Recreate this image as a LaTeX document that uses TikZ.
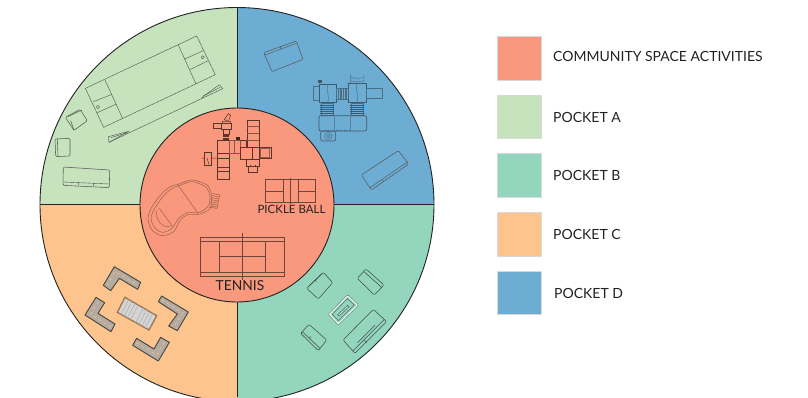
\documentclass[tikz,border=0pt]{standalone}
\usepackage{fontspec}
\usetikzlibrary{calc}
\setmainfont{Lato}
\definecolor{salmon}{HTML}{F9987C}
\definecolor{pa}{HTML}{C6E3BE}
\definecolor{pb}{HTML}{93D5BD}
\definecolor{pc}{HTML}{FDC58D}
\definecolor{pd}{HTML}{6DACD3}
\definecolor{ink}{HTML}{222222}
\definecolor{seatgrey}{HTML}{B5ABA0}
\tikzset{
  zm/.style 2 args={shift={(#1,#2)},x=.33333pt,y=-.33333pt},
  fine/.style={draw=#1,line width=.4pt,line join=round},
  fine/.default={ink!75!pa},
  sofa/.style={draw=ink!75,line width=.55pt,rounded corners=1.2pt},
  seat/.style={draw=ink!85,line width=.9pt,fill=seatgrey,line join=round},
  swatch/.style={draw=white!85!black,line width=.4pt},
  legend/.style={anchor=west,inner sep=0pt,font=\fontsize{14}{16}\selectfont,text=ink},
  court/.style={draw=#1,line width=.5pt},
  court/.default={black!55!salmon},
  sitelabel/.style={inner sep=0pt,text=ink,font=\fontsize{#1}{15}\selectfont},
  sitelabel/.default=11.5,
}
\begin{document}
\begin{tikzpicture}[x=1pt,y=-1pt]
\useasboundingbox (0,0) rectangle (808,397);
\fill[white] (0,0) rectangle (808,397);
\begin{scope}
\clip (0,0) rectangle (808,397);
\begin{scope}
\clip (237,204.5) circle (197);
\fill[pa] (30,0) rectangle (237,204.5);
\fill[pd] (237,0) rectangle (440,204.5);
\fill[pc] (30,204.5) rectangle (237,410);
\fill[pb] (237,204.5) rectangle (440,410);
\end{scope}
\draw[ink,line width=.9pt] (237,204.5) circle (197);
\draw[ink,line width=.9pt] (237,8) -- (237,108) (237,302) -- (237,397) (40,204.5) -- (140,204.5) (334,204.5) -- (434,204.5);
\fill[salmon] (237,205) circle (97);
\draw[ink,line width=.9pt] (237,205) circle (97);

% ---------- Pocket A
\begin{scope}[zm={40}{0}]
\draw[fine] (136,265) -- (470,108) -- (526,224) -- (191,382) -- cycle;
\draw[fine] (195,240) -- (248,356) (415,135) -- (468,252);
\draw[fine] (160,305) -- (216,283) (172,338) -- (229,312);
\draw[fine] (432,178) -- (490,152) (449,209) -- (505,182);
\draw[fine] (174,321) circle (5) (488,172) circle (5);
\draw[fine] (205,410) -- (266,394) -- (207,427) -- cycle;
\draw[fine] (485,293) -- (538,254) -- (548,266) -- (207,427);
\draw[fine] (212,413) -- (262,398) (490,288) -- (540,262);
\draw[sofa] (76,352) -- (120,328) -- (142,362) -- (102,391) -- cycle;
\draw[sofa] (84,350) -- (125,330) (92,362) -- (102,391);
\draw[sofa] (45,417) -- (90,415) -- (90,468) -- (47,470) -- cycle;
\draw[sofa] (52,417) -- (54,468);
\draw[sofa] (70,501) -- (209,510) -- (208,563) -- (69,556) -- cycle;
\draw[fine] (71,546) -- (208,552) (115,548) -- (115,555) (160,550) -- (160,558);
\end{scope}

% ---------- Pocket D
\begin{scope}[zm={237}{0}]
\draw[sofa] (80,158) -- (178,123) -- (198,178) -- (105,215) -- cycle;
\draw[fine] (130,140) -- (132,148) (84,165) -- (178,130);
\draw[sofa] (373,525) -- (484,452) -- (515,492) -- (403,570) -- cycle;
\draw[fine] (436,540) -- (440,546) (399,563) -- (511,486);
\end{scope}
\begin{scope}[zm={305}{70}]
\tikzset{pl/.style={draw=ink!45!pd,line width=.45pt}}
\draw[pl] (25,48) rectangle (42,92);
\draw[pl,draw=ink!60!pd] (42,42) rectangle (95,98);
\draw[pl] (68,42) .. controls (62,60) and (75,75) .. (68,98);
\draw[pl,draw=ink!60!pd] (130,40) rectangle (185,98);
\draw[pl] (155,40) .. controls (150,60) and (163,75) .. (155,98);
\draw[pl] (185,55) rectangle (232,85);
\draw[pl] (137,13) -- (137,40) (177,13) -- (177,40) (137,22) .. controls (150,26) and (165,26) .. (177,22) (137,32) .. controls (150,36) and (165,36) .. (177,32);
\draw[pl] (95,55) rectangle (130,88);
\foreach \xx in {100,105,...,125} \draw[pl] (\xx,55) -- (\xx,88);
\draw[pl] (50,100) rectangle (84,135) (140,100) rectangle (174,135);
\foreach \yy in {105,111,...,130} \draw[pl,draw=ink!60!pd,line width=.6pt] (46,\yy) -- (88,\yy) (136,\yy) -- (178,\yy);
\draw[ink!60!pd,line width=.7pt,rounded corners=2pt] (42,137) rectangle (185,183);
\draw[pl,draw=ink!30!pd] (88,137) -- (88,183) (135,137) -- (135,183);
\draw[ink!60!pd,line width=.55pt,rounded corners=2pt] (47,183) rectangle (92,213);
\draw[pl] (70,198) circle (11) (70,198) circle (5);
\draw[ink!60!pd,dotted,line width=.7pt] (92,181) -- (135,181);
\fill[ink!60!pd] (40,30) rectangle (50,38);
\end{scope}

% ---------- Pocket C
\begin{scope}[zm={70}{250}]
\foreach \p in {
 {(133,50) -- (212,97) -- (203,118) -- (148,85) -- (122,122) -- (100,106) -- cycle},
 {(78,142) -- (104,158) -- (84,190) -- (135,222) -- (123,245) -- (45,195) -- cycle},
 {(275,138) -- (355,186) -- (322,242) -- (296,228) -- (322,192) -- (265,155) -- cycle},
 {(200,265) -- (252,297) -- (272,262) -- (298,277) -- (265,333) -- (188,286) -- cycle}}
  {\draw[seat] \p;}
\draw[pc,dashed,line width=.5pt] (195,100) -- (135,65) -- (112,104);
\draw[pc,dashed,line width=.5pt] (85,155) -- (62,193) -- (125,232);
\draw[pc,dashed,line width=.5pt] (275,150) -- (338,188) -- (312,230);
\draw[pc,dashed,line width=.5pt] (198,278) -- (260,315) -- (285,272);
\draw[draw=black!40!pc,fill=black!17,line width=1.3pt] (165,142) -- (260,197) -- (237,240) -- (142,187) -- cycle;
\foreach \tt in {0.12,0.22,0.32,0.42,0.58,0.68,0.78,0.88}
  \draw[black!30,line width=.6pt] ($(165,142)!\tt!(260,197)$) -- ($(142,187)!\tt!(237,240)$);
\end{scope}

% ---------- Pocket B
\begin{scope}[zm={285}{250}]
\tikzset{sb/.style={draw=ink!75!pb,line width=.55pt,rounded corners=1.2pt}}
\draw[sb] (115,67) -- (143,98) -- (100,147) -- (65,115) -- cycle;
\draw[sb] (72,108) -- (110,72) (90,90) -- (94,95);
\draw[sb] (243,57) -- (297,105) -- (268,135) -- (217,85) -- cycle;
\draw[sb] (238,66) -- (290,112);
\draw[sb] (72,223) -- (125,270) -- (100,302) -- (47,250) -- cycle;
\draw[sb] (52,245) -- (105,295) (72,265) -- (78,260);
\draw[sb] (265,178) -- (305,215) -- (210,310) -- (174,270) -- cycle;
\draw[sb] (298,208) -- (203,303) (218,278) -- (270,226) (238,272) -- (244,278);
\draw[draw=white,line width=1.2pt,rounded corners=1pt] (188,137) -- (218,165) -- (160,222) -- (133,193) -- cycle;
\draw[ink!55!pb,line width=.4pt,rounded corners=1pt] (188,134) -- (221,165) -- (160,225) -- (130,193) -- cycle;
\draw[ink!60!pb,line width=.5pt] (187,146) -- (208,165) -- (160,212) -- (142,193) -- cycle;
\draw[draw=ink!70!pb,fill=white!40!pb,line width=.5pt] (188,166) -- (192,170) -- (163,198) -- (158,194) -- cycle;
\end{scope}

% ---------- Central: playground
\begin{scope}[zm={195}{108}]
\tikzset{pg/.style={draw=black!65!salmon,line width=.5pt}}
\draw[pg] (80,47) rectangle (108,65) (55,47) rectangle (80,62);
\draw[pg] (88,35) -- (100,17) -- (107,22) -- (100,40) -- cycle (82,40) rectangle (106,47);
\draw[pg] (85,65) rectangle (102,80);
\foreach \yy in {82,86,...,98} \draw[pg] (85,\yy) -- (102,\yy);
\draw[pg,line width=.65pt] (67,98) rectangle (103,215);
\draw[pg] (67,135) -- (103,135) (67,152) -- (103,152) (67,178) -- (103,178) (67,190) -- (103,190);
\draw[pg,draw=black!45!salmon] (103,98) rectangle (118,135) (118,98) rectangle (135,135);
\draw[pg] (135,98) -- (155,98) -- (155,118);
\draw[pg,line width=.65pt] (157,37) rectangle (192,118);
\draw[pg,draw=black!45!salmon] (157,55) -- (192,55) (157,77) -- (192,77) (157,98) -- (192,98);
\draw[pg,line width=.65pt] (137,118) rectangle (192,155) (155,155) rectangle (192,175);
\draw[pg] (172,118) -- (172,155);
\draw[pg,line width=.65pt] (192,118) rectangle (228,152);
\draw[pg,draw=black!40!salmon] (197,122) rectangle (222,148);
\draw[pg] (160,175) rectangle (187,192) (165,170) -- (165,175) (182,170) -- (182,175);
\draw[pg,line width=.65pt] (28,132) rectangle (50,173);
\draw[pg] (28,150) -- (20,150) (36,150) -- (42,170) (50,150) -- (67,150);
\fill[black!75!salmon] (122,87) rectangle (136,96);
\end{scope}

% ---------- Central: pool
\begin{scope}[zm={142}{175}]
\tikzset{pool/.style={draw=black!40!salmon,line width=.45pt}}
\draw[pool,smooth cycle] plot coordinates {(108,28) (150,15) (195,30) (208,60) (205,100) (170,118) (140,118) (115,135) (95,170) (60,182) (30,165) (18,130) (30,95) (60,55) (85,35)};
\draw[pool,smooth cycle] plot coordinates {(108,33) (150,20) (190,35) (203,60) (200,92) (170,113) (138,112) (110,130) (90,160) (62,172) (38,158) (27,130) (38,100) (65,62) (88,42)};
\draw[pool] (108,30) -- (168,115) (52,100) -- (90,152);
\draw[pool] (45,105) .. controls (38,130) and (60,165) .. (90,152);
\draw[pool] (210,55) -- (233,60) -- (225,100) -- (202,97);
\foreach \tt in {0.15,0.3,0.45,0.6,0.75,0.9}
  \draw[pool] ($(210,55)!\tt!(202,97)$) -- ($(233,60)!\tt!(225,100)$);
\end{scope}

% ---------- Central: courts
\begin{scope}[zm={140}{105}]
\draw[court] (377,223) rectangle (527,293);
\draw[court] (429,223) -- (429,293) (476,223) -- (476,293) (452,219) -- (452,297);
\draw[court] (377,258) -- (429,258) (476,258) -- (527,258);
\draw[court] (181,396) rectangle (434,514);
\draw[court] (181,409) -- (434,409) (181,502) -- (434,502);
\draw[court] (239,409) -- (239,502) (377,409) -- (377,502);
\draw[court] (239,454) -- (377,454) (308,385) -- (308,525);
\end{scope}
\node[sitelabel] (picklelabel) at (291.5,209.5) {PICKLE BALL};
\node[sitelabel=13.8] (tennislabel) at (240,285.8) {TENNIS};
\end{scope}

% ---------- Legend
\fill[salmon,swatch] (497.3,36) rectangle (541.3,80);
\fill[pa,swatch] (497.3,95) rectangle (541.3,138.5);
\fill[pb,swatch] (497.3,153.5) rectangle (541.3,197);
\fill[pc,swatch] (497.3,212) rectangle (541.3,256);
\fill[pd,swatch] (497.3,271) rectangle (541.3,314.5);
\node[legend] (lgcom) at (553,56.5) {COMMUNITY SPACE ACTIVITIES};
\node[legend] (lga) at (553,117) {POCKET A};
\node[legend] (lgb) at (553,175.5) {POCKET B};
\node[legend] (lgc) at (553,234.5) {POCKET C};
\node[legend] (lgd) at (554,293) {POCKET D};
\end{tikzpicture}
\end{document}
